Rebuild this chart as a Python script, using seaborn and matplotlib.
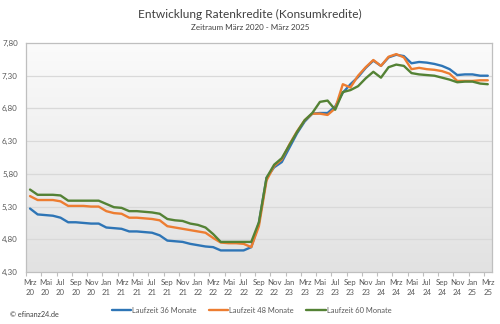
import numpy as np
import pandas as pd
import matplotlib
matplotlib.use("Agg")
import matplotlib.pyplot as plt
from matplotlib.colors import LinearSegmentedColormap
from matplotlib.lines import Line2D
import seaborn as sns

# ---- data ----
month_names = ["Mrz", "Apr", "Mai", "Jun", "Jul", "Aug", "Sep", "Okt", "Nov", "Dez", "Jan", "Feb"]
start_year = 20
n_months = 61

laufzeit_36 = [5.27, 5.18, 5.17, 5.16, 5.13, 5.06, 5.06, 5.05, 5.04, 5.04,
               4.98, 4.97, 4.96, 4.92, 4.92, 4.91, 4.90, 4.86, 4.78, 4.77,
               4.76, 4.73, 4.71, 4.69, 4.68, 4.63, 4.63, 4.63, 4.63, 4.68,
               5.05, 5.74, 5.90, 5.98, 6.20, 6.42, 6.60, 6.72, 6.73, 6.73,
               6.83, 7.04, 7.17, 7.28, 7.42, 7.53, 7.45, 7.58, 7.62, 7.60,
               7.49, 7.51, 7.50, 7.48, 7.45, 7.40, 7.31, 7.32, 7.32, 7.30,
               7.30]
laufzeit_48 = [5.46, 5.40, 5.40, 5.40, 5.38, 5.31, 5.31, 5.31, 5.30, 5.30,
               5.23, 5.20, 5.19, 5.13, 5.13, 5.12, 5.11, 5.09, 5.00, 4.98,
               4.96, 4.94, 4.92, 4.90, 4.82, 4.75, 4.74, 4.74, 4.73, 4.68,
               5.00, 5.70, 5.92, 6.02, 6.25, 6.45, 6.62, 6.72, 6.72, 6.70,
               6.80, 7.17, 7.12, 7.30, 7.43, 7.54, 7.45, 7.59, 7.63, 7.58,
               7.40, 7.42, 7.40, 7.39, 7.37, 7.33, 7.22, 7.22, 7.22, 7.23,
               7.23]
laufzeit_60 = [5.56, 5.48, 5.48, 5.48, 5.47, 5.39, 5.39, 5.39, 5.39, 5.39,
               5.34, 5.29, 5.28, 5.23, 5.23, 5.22, 5.21, 5.19, 5.11, 5.09,
               5.08, 5.04, 5.02, 4.98, 4.88, 4.76, 4.76, 4.76, 4.76, 4.76,
               5.06, 5.74, 5.94, 6.04, 6.24, 6.44, 6.62, 6.73, 6.90, 6.92,
               6.78, 7.05, 7.08, 7.14, 7.26, 7.36, 7.27, 7.43, 7.47, 7.45,
               7.34, 7.32, 7.31, 7.30, 7.27, 7.24, 7.20, 7.21, 7.21, 7.18,
               7.17]
series_names = ["Laufzeit 36 Monate", "Laufzeit 48 Monate", "Laufzeit 60 Monate"]
y_ticks = [4.30, 4.80, 5.30, 5.80, 6.30, 6.80, 7.30, 7.80]

# month labels
labels = []
for i in range(n_months):
    m = month_names[i % 12]
    yr = start_year + (i + 2) // 12
    labels.append(f"{m}\n{yr}")

df = pd.DataFrame({
    "idx": list(range(n_months)) * 3,
    "Zins": laufzeit_36 + laufzeit_48 + laufzeit_60,
    "Serie": [series_names[0]] * n_months + [series_names[1]] * n_months + [series_names[2]] * n_months,
})

colors = ["#2e75b6", "#ed7d31", "#548235"]

sns.set_theme(style="white")
plt.rcParams["font.family"] = ["Lato", "DejaVu Sans"]

fig = plt.figure(figsize=(5.0, 3.24), dpi=100)
ax = fig.add_axes([0.0524, 0.1605, 0.9308, 0.7068])

# gradient background
cmap = LinearSegmentedColormap.from_list("bg", ["#e2e2e2", "#fbfbfb"])
grad = np.linspace(0, 1, 256).reshape(-1, 1)
ax.imshow(grad, aspect="auto", cmap=cmap, origin="lower",
          extent=[-0.5, 60.5, 4.30, 7.80], zorder=0)

for yv in y_ticks[1:-1]:
    ax.axhline(yv, color="#d9d9d9", lw=0.9, zorder=1)

sns.lineplot(data=df, x="idx", y="Zins", hue="Serie", palette=colors,
             linewidth=1.7, ax=ax, legend=False, zorder=3)

ax.set_xlim(-0.5, 60.5)
ax.set_ylim(4.30, 7.80)
ax.set_xlabel("")
ax.set_ylabel("")

ax.set_yticks(y_ticks)
ax.set_yticklabels([f"{v:.2f}".replace(".", ",") for v in y_ticks],
                   fontsize=5.8, color="#595959")
ax.set_xticks(list(range(0, n_months, 2)))
ax.set_xticklabels([labels[i] for i in range(0, n_months, 2)],
                   fontsize=5.6, color="#595959", linespacing=1.45)
ax.set_xticks(np.arange(-0.5, 61, 2), minor=True)
ax.tick_params(axis="x", which="major", length=0, pad=5)
ax.tick_params(axis="x", which="minor", length=3, color="#bfbfbf", width=0.8, bottom=True)
ax.tick_params(axis="y", which="major", length=0, pad=6)

for s in ax.spines.values():
    s.set_visible(True)
    s.set_color("#bfbfbf")
    s.set_linewidth(0.9)

fig.text(0.5, 0.955, "Entwicklung Ratenkredite (Konsumkredite)", ha="center", va="center",
         fontsize=8.6, color="#404040")
fig.text(0.5, 0.915, "Zeitraum März 2020 - März 2025", ha="center", va="center",
         fontsize=5.8, color="#404040")

handles = [Line2D([0], [0], color=c, lw=1.7) for c in colors]
fig.legend(handles, series_names, loc="center", bbox_to_anchor=(0.503, 0.043),
           ncol=3, frameon=False, fontsize=5.4, handlelength=2.6, handletextpad=0.15,
           columnspacing=1.6, labelcolor="#595959")

fig.text(0.02, 0.028, "© efinanz24.de", ha="left", va="center", fontsize=5.2, color="#404040")

fig.savefig("out.png", dpi=100, facecolor="white")
